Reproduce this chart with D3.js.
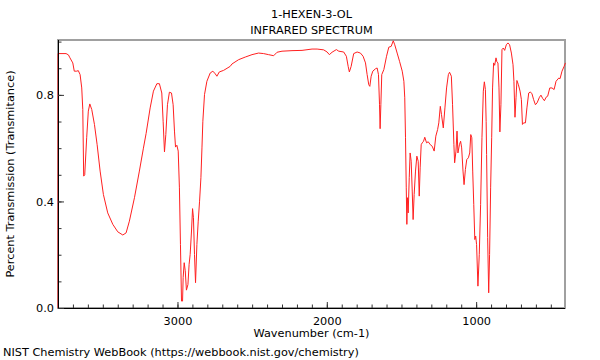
<!DOCTYPE html>
<html><head><meta charset="utf-8">
<script src="https://cdn.jsdelivr.net/npm/d3@7"></script>
<style>body{margin:0;background:#fff}text{font-family:"DejaVu Sans",sans-serif}</style>
</head><body>
<svg id="c" width="600" height="360"></svg>
<script>
const titleLines = ["1-HEXEN-3-OL", "INFRARED SPECTRUM"];
const xLabel = "Wavenumber (cm-1)";
const yLabel = "Percent Transmission (Transmitance)";
const footer = "NIST Chemistry WebBook (https://webbook.nist.gov/chemistry)";
const xMajorTicks = [3000, 2000, 1000];
const yMajorTicks = [0.0, 0.4, 0.8];
const xMinorTicks = d3.range(500, 3800, 100);
const yMinorTicks = d3.range(0, 11).map(d => d / 10);

const wavenumber = [3800,3800,3746,3730,3720,3701,3691,3675,3664,3652,3641,3634,3628,3621,3608,3597,3587,3574,3556,3538,3518,3496,3467,3433,3400,3366,3344,3322,3288,3255,3228,3210,3183,3161,3138,3121,3105,3096,3087,3078,3067,3054,3040,3029,3020,3013,3004,2995,2987,2980,2973,2966,2962,2955,2948,2940,2930,2922,2915,2906,2899,2893,2886,2879,2870,2861,2852,2843,2836,2830,2819,2803,2781,2763,2747,2736,2720,2691,2647,2635,2591,2546,2501,2457,2423,2390,2356,2333,2300,2233,2166,2099,2065,2021,1998,1983,1965,1936,1920,1887,1869,1857,1849,1837,1820,1797,1775,1757,1741,1730,1719,1712,1703,1692,1674,1663,1654,1647,1643,1638,1632,1618,1600,1585,1569,1555,1545,1529,1513,1495,1484,1478,1473,1468,1464,1460,1455,1448,1442,1435,1428,1422,1415,1406,1397,1388,1381,1375,1368,1361,1352,1344,1332,1321,1307,1294,1281,1270,1258,1250,1240,1232,1220,1209,1198,1186,1178,1166,1158,1149,1144,1135,1128,1122,1112,1104,1097,1088,1081,1072,1063,1052,1043,1036,1029,1023,1016,1009,1003,997,988,979,970,961,952,945,938,933,930,923,916,910,903,896,890,883,876,867,861,854,847,841,834,827,818,809,798,787,776,764,753,747,740,733,727,717,706,697,690,682,670,660,648,637,626,615,603,592,576,566,554,543,532,521,507,492,478,465,447,438,425,411,402];
const transmittance = [0,0.955,0.955,0.950,0.939,0.920,0.889,0.889,0.891,0.876,0.826,0.745,0.495,0.500,0.639,0.739,0.766,0.745,0.689,0.613,0.514,0.426,0.357,0.314,0.286,0.274,0.282,0.326,0.414,0.514,0.600,0.655,0.751,0.814,0.842,0.842,0.807,0.701,0.586,0.651,0.763,0.810,0.807,0.763,0.664,0.604,0.611,0.589,0.451,0.238,0.026,0.026,0.114,0.170,0.140,0.067,0.088,0.164,0.201,0.289,0.373,0.339,0.201,0.095,0.238,0.326,0.401,0.489,0.601,0.701,0.801,0.851,0.882,0.889,0.879,0.870,0.886,0.892,0.907,0.916,0.932,0.942,0.951,0.957,0.955,0.951,0.947,0.960,0.964,0.966,0.967,0.972,0.972,0.969,0.961,0.951,0.960,0.970,0.964,0.961,0.945,0.907,0.886,0.907,0.955,0.961,0.957,0.945,0.920,0.876,0.838,0.832,0.870,0.889,0.898,0.901,0.876,0.763,0.673,0.763,0.876,0.895,0.945,0.979,0.982,1.003,0.988,0.957,0.926,0.889,0.851,0.789,0.639,0.451,0.314,0.414,0.357,0.489,0.582,0.551,0.439,0.332,0.426,0.514,0.570,0.551,0.420,0.526,0.613,0.620,0.626,0.641,0.620,0.624,0.613,0.607,0.589,0.645,0.670,0.695,0.757,0.726,0.676,0.751,0.826,0.876,0.885,0.870,0.763,0.613,0.545,0.589,0.664,0.582,0.613,0.626,0.601,0.514,0.463,0.520,0.557,0.564,0.582,0.651,0.639,0.514,0.389,0.257,0.270,0.238,0.082,0.201,0.389,0.639,0.814,0.849,0.820,0.700,0.576,0.264,0.057,0.201,0.451,0.639,0.826,0.920,0.911,0.939,0.924,0.920,0.826,0.661,0.763,0.970,0.976,0.967,0.988,0.995,0.988,0.957,0.913,0.851,0.716,0.789,0.854,0.838,0.814,0.782,0.689,0.695,0.695,0.751,0.807,0.811,0.804,0.782,0.763,0.770,0.791,0.799,0.786,0.778,0.791,0.795,0.826,0.826,0.820,0.851,0.863,0.861,0.889,0.907,0.920];

const svg = d3.select("#c");
const L = 58, R = 565, T = 40, B = 308;
const x = d3.scaleLinear().domain([3800, 405]).range([L, R]);
const y = d3.scaleLinear().domain([0, 1.006]).range([B, T]);
const fs = "11.3px";

// frame
svg.append("rect").attr("x", L).attr("y", T).attr("width", R - L).attr("height", B - T)
  .attr("fill", "none").attr("stroke", "#a0a0a0").attr("stroke-width", 2);

// spectrum
const pts = wavenumber.map((w, i) => [w, transmittance[i]]);
svg.append("path").datum(pts)
  .attr("fill", "none").attr("stroke", "#ff2020").attr("stroke-width", 1)
  .attr("d", d3.line().x(d => x(d[0])).y(d => y(d[1])));

// x axis
const gx = svg.append("g").attr("transform", `translate(0,${B})`);
gx.call(d3.axisBottom(x).tickValues(xMinorTicks).tickSize(-3.5).tickFormat(""));
gx.call(g => g.selectAll(".domain").remove());
const gx2 = svg.append("g").attr("transform", `translate(0,${B})`)
  .call(d3.axisBottom(x).tickValues(xMajorTicks).tickSize(-6).tickFormat(d3.format("d")));
gx2.selectAll(".domain").attr("d", `M${L},0.5H${R}`).attr("stroke", "#000");
gx2.selectAll("text").attr("y", 9).attr("dy", "0.71em").style("font-size", fs).attr("fill", "#000");
svg.selectAll(".tick line").attr("stroke", "#333");

// y axis
const gy = svg.append("g").attr("transform", `translate(${L},0)`);
gy.call(d3.axisLeft(y).tickValues(yMinorTicks).tickSize(-3.5).tickFormat(""));
gy.call(g => g.selectAll(".domain").remove());
const gy2 = svg.append("g").attr("transform", `translate(${L},0)`)
  .call(d3.axisLeft(y).tickValues(yMajorTicks).tickSize(-6).tickFormat(d3.format(".1f")));
gy2.selectAll(".domain").attr("d", `M0.5,${T}V${B}`).attr("stroke", "#000");
gy2.selectAll("text").attr("x", -4).style("font-size", fs).attr("fill", "#000");
svg.selectAll(".tick line").attr("stroke", "#333");

// titles
titleLines.forEach((t, i) => svg.append("text").attr("x", (L + R) / 2).attr("y", 17.5 + i * 16.8)
  .attr("text-anchor", "middle").style("font-size", fs).text(t));
svg.append("text").attr("x", (L + R) / 2).attr("y", 337).attr("text-anchor", "middle")
  .style("font-size", fs).text(xLabel);
svg.append("text").attr("transform", `translate(14,${(T + B) / 2}) rotate(-90)`)
  .attr("text-anchor", "middle").style("font-size", fs).text(yLabel);
svg.append("text").attr("x", 3).attr("y", 356).style("font-size", fs).text(footer);
</script>
</body></html>
